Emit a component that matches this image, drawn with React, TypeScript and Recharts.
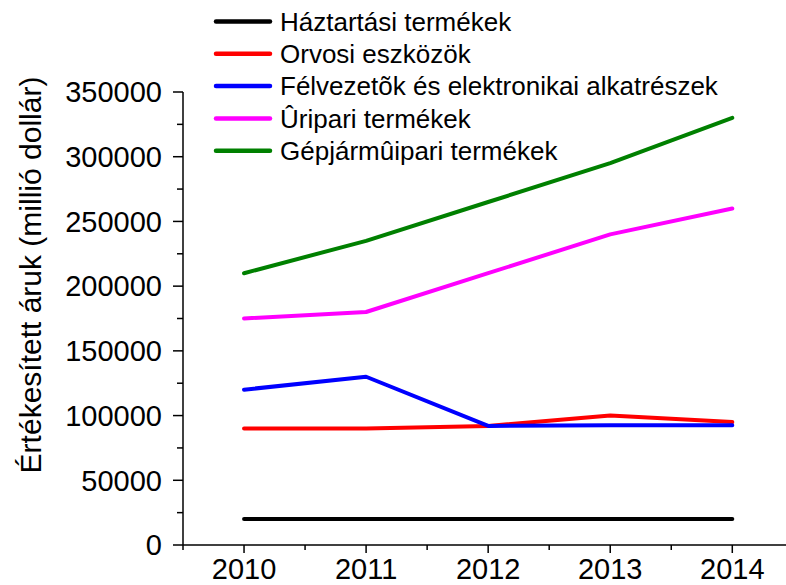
import React from 'react'
import { LineChart, Line, XAxis, YAxis, Legend } from 'recharts'

const years = [2010, 2011, 2012, 2013, 2014]
const haztartasi = [20000, 20000, 20000, 20000, 20000]
const orvosi = [90000, 90000, 92000, 100000, 95000]
const felvezetok = [120000, 130000, 92000, 92500, 92500]
const uripari = [175000, 180000, 210000, 240000, 260000]
const gepjarmu = [210000, 235000, 265000, 295000, 330000]

const xTicks = [2009.5, 2010, 2010.5, 2011, 2011.5, 2012, 2012.5, 2013, 2013.5, 2014]
const yTicks = [0, 25000, 50000, 75000, 100000, 125000, 150000, 175000, 200000, 225000, 250000, 275000, 300000, 325000, 350000]

const SERIES = [
  { key: 'haztartasi', name: 'Háztartási termékek', color: '#000000' },
  { key: 'orvosi', name: 'Orvosi eszközök', color: '#ff0000' },
  { key: 'felvezetok', name: 'Félvezetõk és elektronikai alkatrészek', color: '#0000ff' },
  { key: 'uripari', name: 'Ûripari termékek', color: '#ff00ff' },
  { key: 'gepjarmu', name: 'Gépjármûipari termékek', color: '#008000' },
]

const data = years.map((year, i) => ({
  year,
  haztartasi: haztartasi[i],
  orvosi: orvosi[i],
  felvezetok: felvezetok[i],
  uripari: uripari[i],
  gepjarmu: gepjarmu[i],
}))

const FONT = '"Liberation Sans", Arial, Helvetica, sans-serif'

const XTick = ({ x, y, payload }: any) => {
  const major = Number.isInteger(payload.value)
  return (
    <g>
      <line x1={x} x2={x} y1={y} y2={y + (major ? 8 : 5)} stroke="#000" strokeWidth={1.5} />
      {major && (
        <text x={x} y={y + 34} textAnchor="middle" fontSize={29} fontFamily={FONT} fill="#000">
          {payload.value}
        </text>
      )}
    </g>
  )
}

const YTick = ({ x, y, payload }: any) => {
  const major = payload.value % 50000 === 0
  return (
    <g>
      <line x1={x} x2={x - (major ? 10 : 6)} y1={y} y2={y} stroke="#000" strokeWidth={1.5} />
      {major && (
        <text x={x - 21} y={y} dy="0.355em" textAnchor="end" fontSize={29} fontFamily={FONT} fill="#000">
          {payload.value}
        </text>
      )}
    </g>
  )
}

const YLabel = () => (
  <text
    transform="translate(41,275) rotate(-90)"
    x={0}
    y={0}
    textAnchor="middle"
    fontSize={30}
    fontFamily={FONT}
    fill="#000"
  >
    Értékesített áruk (millió dollár)
  </text>
)

// keep the legend in series order (recharts sorts it otherwise)
const LegendContent = () => (
  <svg width={786} height={170} style={{ display: 'block' }}>
    {SERIES.map((s, i) => {
      const cy = 21.5 + i * 32.3
      return (
        <g key={s.key}>
          <line x1={216} x2={270} y1={cy} y2={cy} stroke={s.color} strokeWidth={4.5} strokeLinecap="round" />
          <text x={280} y={cy} dy="0.355em" fontSize={26} fontFamily={FONT} fill="#000">
            {s.name}
          </text>
        </g>
      )
    })}
  </svg>
)

export default function App() {
  return (
    <div style={{ position: 'absolute', left: 0, top: 0, width: 786, height: 585, overflow: 'hidden', background: '#fff' }}>
      <LineChart width={786} height={585} data={data} margin={{ top: 92, right: 0, bottom: 0, left: 0 }}>
        <XAxis
          dataKey="year"
          type="number"
          domain={[2009.5, 2014.44]}
          ticks={xTicks}
          interval={0}
          height={40}
          tickLine={false}
          tickSize={0}
          tickMargin={0}
          tick={<XTick />}
          axisLine={{ stroke: '#000', strokeWidth: 1.5 }}
          allowDataOverflow
        />
        <YAxis
          type="number"
          domain={[0, 350000]}
          ticks={yTicks}
          interval={0}
          width={183}
          tickLine={false}
          tickSize={0}
          tickMargin={0}
          tick={<YTick />}
          axisLine={{ stroke: '#000', strokeWidth: 1.5 }}
          label={<YLabel />}
        />
        <Legend
          layout="vertical"
          align="center"
          verticalAlign="middle"
          content={<LegendContent />}
          wrapperStyle={{ position: 'absolute', left: 0, top: 0, width: 786, height: 170 }}
        />
        {SERIES.map((s) => (
          <Line
            key={s.key}
            dataKey={s.key}
            name={s.name}
            stroke={s.color}
            strokeWidth={4}
            strokeLinecap="round"
            strokeLinejoin="round"
            dot={false}
            activeDot={false}
            isAnimationActive={false}
          />
        ))}
      </LineChart>
    </div>
  )
}
